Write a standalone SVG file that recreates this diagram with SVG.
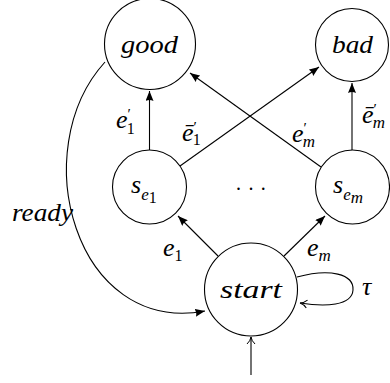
<svg xmlns="http://www.w3.org/2000/svg" width="390" height="383" viewBox="0 0 390 383">
<style>
.node{fill:#fff;stroke:#000;stroke-width:1.1}
.edge{fill:none;stroke:#000;stroke-width:1.1}
text{font-family:'Liberation Serif','Times New Roman',serif;fill:#000}
.lbl{font-style:italic;font-size:26px}
.sub{font-style:italic;font-size:17px}
.num{font-style:normal;font-size:16px}
.pr{font-style:normal;font-size:15px}
</style>
<defs>
<marker id="latex" markerUnits="userSpaceOnUse" markerWidth="11" markerHeight="8" refX="10" refY="4" orient="auto">
<path d="M0,0 L10,4 L0,8 Q2,4 0,0 Z" fill="#000"/>
</marker>
<marker id="to" markerUnits="userSpaceOnUse" markerWidth="10" markerHeight="10" refX="9" refY="5" orient="auto">
<path d="M2,1 Q5,4.3 9,5 Q5,5.7 2,9" fill="none" stroke="#000" stroke-width="1"/>
</marker>
</defs>

<g id="connectors">
<line class="edge" x1="149.5" y1="150" x2="149.5" y2="91" marker-end="url(#latex)"/>
<line class="edge" x1="352" y1="151" x2="352" y2="83" marker-end="url(#latex)"/>
<line class="edge" x1="180" y1="166" x2="319" y2="67" marker-end="url(#latex)"/>
<line class="edge" x1="321" y1="167" x2="190" y2="73" marker-end="url(#latex)"/>
<line class="edge" x1="218" y1="256" x2="178" y2="216" marker-end="url(#latex)"/>
<line class="edge" x1="284" y1="256" x2="325" y2="216" marker-end="url(#latex)"/>
<path class="edge" d="M105,62 C25,150 75,335 205,311" marker-end="url(#latex)"/>
<path class="edge" d="M297,277 C330,268 354,274 353,290 C352,306 325,307 300,303" marker-end="url(#to)"/>
<line class="edge" x1="251" y1="375" x2="251" y2="337" marker-end="url(#to)"/>
</g>

<g id="good">
<circle class="node" cx="150" cy="44" r="45.5"/>
<text class="lbl" x="121" y="53" textLength="57" lengthAdjust="spacingAndGlyphs">good</text>
</g>
<g id="bad">
<circle class="node" cx="352" cy="45" r="36.5"/>
<text class="lbl" x="332" y="53" textLength="41" lengthAdjust="spacingAndGlyphs">bad</text>
</g>
<g id="s_e1">
<circle class="node" cx="149.5" cy="187" r="37"/>
<text class="lbl" x="131" y="193">s<tspan class="sub" dy="7">e</tspan><tspan class="num" font-size="12" dy="3">1</tspan></text>
</g>
<g id="s_em">
<circle class="node" cx="352.5" cy="187" r="37"/>
<text class="lbl" x="333" y="193">s<tspan class="sub" dy="7">e</tspan><tspan class="sub" font-size="13" dy="3">m</tspan></text>
</g>
<g id="dots">
<text x="236" y="190" font-size="20" letter-spacing="7.4">...</text>
</g>
<g id="start">
<circle class="node" cx="251" cy="289.5" r="46.5"/>
<text class="lbl" x="220" y="298" textLength="62" lengthAdjust="spacingAndGlyphs">start</text>
</g>

<g id="labels">
<text class="lbl" x="116" y="128">e<tspan class="pr" dy="-9">′</tspan><tspan class="num" dx="-4" dy="15">1</tspan></text>
<text class="lbl" x="182" y="141">ē<tspan class="pr" dy="-9">′</tspan><tspan class="num" dx="-4" dy="13">1</tspan></text>
<text class="lbl" x="292" y="142">e<tspan class="pr" dy="-9">′</tspan><tspan class="sub" dx="-4" dy="14">m</tspan></text>
<text class="lbl" x="362" y="123">ē<tspan class="pr" dy="-9">′</tspan><tspan class="sub" dx="-4" dy="14">m</tspan></text>
<text class="lbl" x="163" y="256">e<tspan class="num" dy="5">1</tspan></text>
<text class="lbl" x="307" y="256">e<tspan class="sub" dy="5">m</tspan></text>
<text class="lbl" x="362" y="295">τ</text>
<text class="lbl" x="12" y="221" textLength="61" lengthAdjust="spacingAndGlyphs">ready</text>
</g>
</svg>
